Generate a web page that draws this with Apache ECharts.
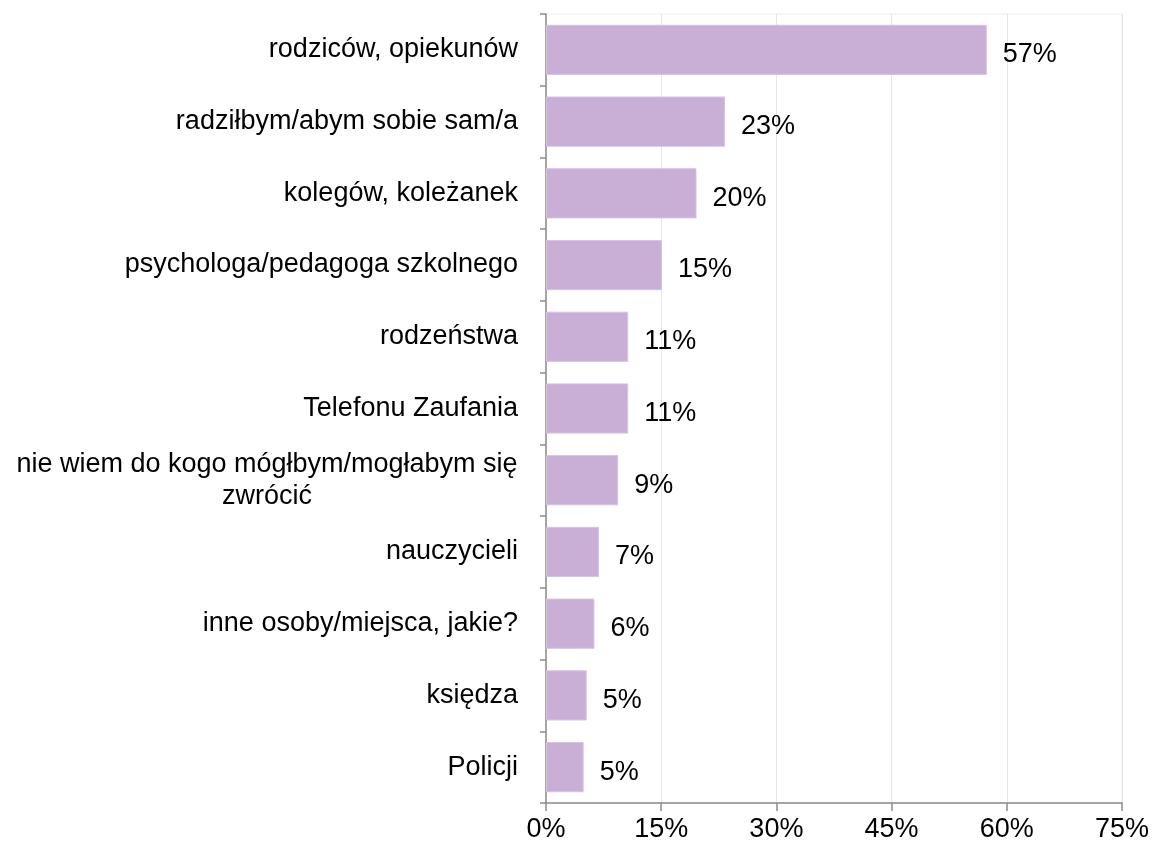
<!DOCTYPE html>
<html lang="pl">
<head>
<meta charset="UTF-8">
<title>chart</title>
<script src="https://cdn.jsdelivr.net/npm/echarts@6/dist/echarts.min.js"></script>
<style>
html, body { margin: 0; padding: 0; background: #fff; }
#main { width: 1152px; height: 853px; }
</style>
</head>
<body>
<div id="main"></div>
<script type="text/javascript">
// categories, top to bottom as in the picture
var categories = [
    'rodziców, opiekunów',
    'radziłbym/abym sobie sam/a',
    'kolegów, koleżanek',
    'psychologa/pedagoga szkolnego',
    'rodzeństwa',
    'Telefonu Zaufania',
    'nie wiem do kogo mógłbym/mogłabym się\nzwrócić',
    'nauczycieli',
    'inne osoby/miejsca, jakie?',
    'księdza',
    'Policji'
];
// percent values
var values = [57.4, 23.3, 19.6, 15.1, 10.7, 10.7, 9.4, 6.9, 6.3, 5.3, 4.9];
var xTicks = [0, 15, 30, 45, 60, 75];

var font = '"Liberation Sans", Arial, sans-serif';
var fsize = 27;

// text width, so a wrapped label's lines centre under its longest line
function lineWidth(s) {
    var ctx = document.createElement('canvas').getContext('2d');
    ctx.font = fsize + 'px ' + font;
    return Math.ceil(ctx.measureText(s).width);
}
var wrapWidth = 0;
categories.forEach(function (c) {
    if (c.indexOf('\n') >= 0) {
        c.split('\n').forEach(function (s) { wrapWidth = Math.max(wrapWidth, lineWidth(s)); });
    }
});

var myChart = echarts.init(document.getElementById('main'));

myChart.setOption({
    backgroundColor: '#ffffff',
    animation: false,
    textStyle: { fontFamily: font },
    grid: {
        left: 546,
        right: 30,
        top: 14,
        bottom: 50,
        show: true,
        borderColor: '#ececec',
        borderWidth: 1
    },
    xAxis: {
        type: 'value',
        min: xTicks[0],
        max: xTicks[xTicks.length - 1],
        interval: 15,
        axisLine: { show: true, lineStyle: { color: '#8c8c8c', width: 1.5 } },
        axisTick: { show: true, length: 8, lineStyle: { color: '#8c8c8c', width: 1.5 } },
        splitLine: { show: true, lineStyle: { color: '#e6e6e6', width: 1 } },
        axisLabel: {
            color: '#000',
            fontSize: fsize,
            fontFamily: font,
            margin: 13,
            formatter: function (v) { return v + '%'; }
        }
    },
    yAxis: {
        type: 'category',
        inverse: true,
        data: categories,
        axisLine: { show: true, lineStyle: { color: '#8c8c8c', width: 1.5 } },
        axisTick: { show: true, length: 6, lineStyle: { color: '#8c8c8c', width: 1.5 } },
        splitLine: { show: false },
        axisLabel: {
            color: '#000',
            fontSize: fsize,
            fontFamily: font,
            margin: 28,
            formatter: function (v) {
                if (v.indexOf('\n') < 0) return v;
                return v.split('\n').map(function (s) { return '{c|' + s + '}'; }).join('\n');
            },
            rich: {
                c: { width: wrapWidth, align: 'center', fontSize: fsize, lineHeight: 32,
                     color: '#000', fontFamily: font }
            }
        }
    },
    series: [{
        type: 'bar',
        data: values,
        barCategoryGap: '30%',
        itemStyle: { color: '#c9afd6', borderColor: '#d6c3e0', borderWidth: 1 },
        label: {
            show: true,
            position: 'right',
            distance: 16,
            offset: [0, 5],
            color: '#000',
            fontSize: fsize,
            fontFamily: font,
            formatter: function (p) { return Math.round(p.value) + '%'; }
        }
    }]
});
</script>
</body>
</html>
